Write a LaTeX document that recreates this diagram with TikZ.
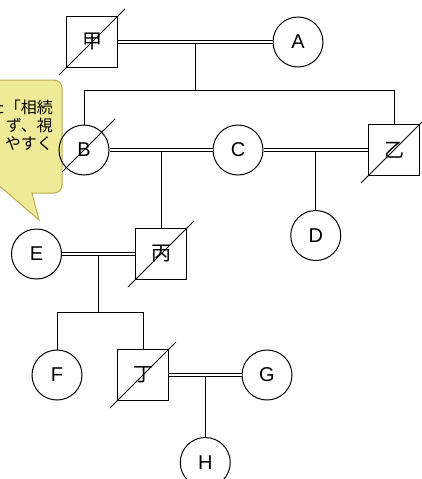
\documentclass[tikz,border=0pt]{standalone}
\usepackage{fontspec}
\setmainfont{Liberation Sans}
\newfontfamily\jp{Noto Sans CJK JP}
\usetikzlibrary{positioning}
\usetikzlibrary{calc}
\definecolor{bubble}{RGB}{238,234,152}
\definecolor{bubbleline}{RGB}{188,170,82}

\begin{document}
\begin{tikzpicture}[x=1pt,y=-1pt,
    fem/.style={draw,circle,line width=1pt,minimum size=50pt,inner sep=0pt,font=\fontsize{20}{20}\selectfont},
    male/.style={draw,rectangle,line width=1pt,minimum size=51pt,inner sep=0pt,font=\jp\fontsize{20}{20}\selectfont},
    wed/.style={double,line width=0.6pt,double distance=2pt},
    kin/.style={line width=0.8pt}]
    \useasboundingbox (0,0) rectangle (422,479);
    % callout, cut at the left edge
    \draw[fill=bubble,draw=bubbleline,line width=1pt]
      (-30,80) [rounded corners=8pt] -- (62,80) -- (62,193) [sharp corners] -- (32,193)
      -- (39,220) -- (-4,183) -- (-30,183) -- cycle;
    \node[anchor=east,align=right,inner sep=0pt,font=\jp\fontsize{16}{18}\selectfont] (note) at (53,125)
      {た「相続\\ず、視\\やすく};
    % people
    \node[male] (ko) at (92,42) {甲};
    \node[fem] (A) at (298,42) {A};
    \node[fem] (B) at (84,150) {B};
    \node[fem] (C) at (238,150) {C};
    \node[male] (otsu) at (394,150) {乙};
    \coordinate (m1) at ($(ko.east)!.5!(A.west)$);
    \coordinate (m2) at ($(B.east)!.5!(C.west)$);
    \coordinate (m3) at ($(C.east)!.5!(otsu.west)$);
    \node[male,below=78pt of m2] (hei) {丙};
    \node[fem,below=60pt of m3] (D) {D};
    \node[fem,left=73pt of hei] (E) {E};
    \coordinate (m4) at ($(E.east)!.5!(hei.west)$);
    \node[fem] (F) at (57,375) {F};
    \node[male] (tei) at (143,375) {丁};
    \node[fem] (G) at (267,375) {G};
    \coordinate (m5) at ($(tei.east)!.5!(G.west)$);
    \node[fem,below=62pt of m5] (H) {H};
    % marriages
    \draw[wed] (ko) -- (A);
    \draw[wed] (B) -- (C);
    \draw[wed] (C) -- (otsu);
    \draw[wed] (E) -- (hei);
    \draw[wed] (tei) -- (G);
    % children
    \draw[kin] ([yshift=-1.6pt]m1) -- ++(0,47) coordinate (s1);
    \draw[kin] (B) |- (s1) -| (otsu);
    \draw[kin] ([yshift=-1.6pt]m2) -- (hei);
    \draw[kin] ([yshift=-1.6pt]m3) -- (D);
    \draw[kin] ([yshift=-1.6pt]m4) -- ++(0,57) coordinate (s2);
    \draw[kin] (F) |- (s2) -| (tei);
    \draw[kin] ([yshift=-1.6pt]m5) -- (H);
    % deceased
    \foreach \n in {ko,otsu,hei,tei}{
      \draw[line width=1pt] ([shift={(-7pt,-7pt)}]\n.south west) -- ([shift={(7pt,7pt)}]\n.north east);
    }
    \draw[line width=1pt] ([shift={(225:31pt)}]B.center) -- ([shift={(45:44pt)}]B.center);
\end{tikzpicture}
\end{document}
